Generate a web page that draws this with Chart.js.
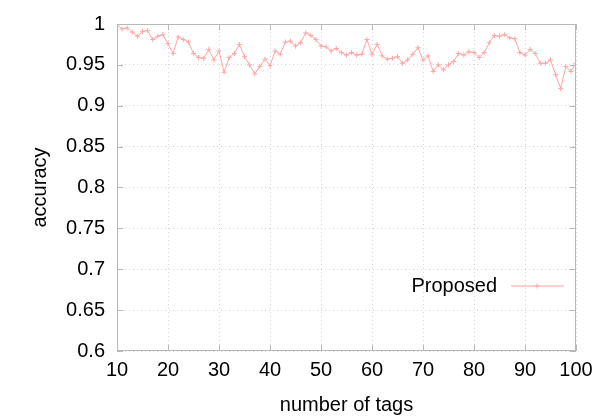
<!DOCTYPE html>
<html>
<head>
<meta charset="utf-8">
<script src="https://cdn.jsdelivr.net/npm/chart.js@4/dist/chart.umd.min.js"></script>
<style>
  html, body { margin: 0; padding: 0; background: #fff; }
  #wrap { width: 612px; height: 417px; }
</style>
</head>
<body>
<div id="wrap"><canvas id="accChart" width="612" height="417"></canvas></div>
<script>
// number of tags (x) and accuracy of the proposed method (y)
const numTags = [
  10, 11, 12, 13, 14, 15, 16, 17, 18, 19,
  20, 21, 22, 23, 24, 25, 26, 27, 28, 29,
  30, 31, 32, 33, 34, 35, 36, 37, 38, 39,
  40, 41, 42, 43, 44, 45, 46, 47, 48, 49,
  50, 51, 52, 53, 54, 55, 56, 57, 58, 59,
  60, 61, 62, 63, 64, 65, 66, 67, 68, 69,
  70, 71, 72, 73, 74, 75, 76, 77, 78, 79,
  80, 81, 82, 83, 84, 85, 86, 87, 88, 89,
  90, 91, 92, 93, 94, 95, 96, 97, 98, 99,
  100
];
const proposedAcc = [
  0.999, 0.994, 0.995, 0.990, 0.985, 0.991, 0.992, 0.981, 0.985, 0.987,
  0.976, 0.964, 0.984, 0.981, 0.978, 0.964, 0.959, 0.958, 0.969, 0.956,
  0.967, 0.941, 0.959, 0.964, 0.975, 0.960, 0.950, 0.939, 0.948, 0.957,
  0.949, 0.967, 0.963, 0.978, 0.979, 0.973, 0.977, 0.989, 0.986, 0.981,
  0.973, 0.972, 0.967, 0.970, 0.965, 0.962, 0.965, 0.962, 0.963, 0.981,
  0.963, 0.975, 0.961, 0.957, 0.958, 0.960, 0.952, 0.956, 0.963, 0.971,
  0.956, 0.961, 0.942, 0.950, 0.944, 0.950, 0.954, 0.964, 0.962, 0.966,
  0.965, 0.959, 0.965, 0.977, 0.986, 0.985, 0.987, 0.983, 0.982, 0.965,
  0.962, 0.969, 0.964, 0.952, 0.952, 0.956, 0.938, 0.921, 0.948, 0.942,
  0.952
];
const seriesName = "Proposed";
const xTitle = "number of tags";
const yTitle = "accuracy";

const lineColor = "#ffa6a6";
const gridColor = "#d6d6d6";
const frameColor = "#b8b8b8";
const fontFamily = "'Liberation Sans', Arial, sans-serif";

// gnuplot-style key drawn inside the plot area
const insideKey = {
  id: "insideKey",
  afterDatasetsDraw(chart) {
    const { ctx, chartArea } = chart;
    const y = chartArea.top + 262;
    const textRight = chartArea.right - 79;
    ctx.save();
    ctx.font = "20px " + fontFamily;
    ctx.fillStyle = "#000";
    ctx.textAlign = "right";
    ctx.textBaseline = "middle";
    ctx.fillText(seriesName, textRight, y);
    ctx.strokeStyle = lineColor;
    ctx.lineWidth = 1;
    ctx.beginPath();
    ctx.moveTo(textRight + 14, y);
    ctx.lineTo(textRight + 67, y);
    const mx = textRight + 40;
    ctx.moveTo(mx - 2.5, y);
    ctx.lineTo(mx + 2.5, y);
    ctx.moveTo(mx, y - 2.5);
    ctx.lineTo(mx, y + 2.5);
    ctx.stroke();
    ctx.restore();
  }
};

// solid frame with short inward tics, like gnuplot
const frame = {
  id: "frame",
  afterDraw(chart) {
    const { ctx, chartArea: a, scales } = chart;
    const tic = 6;
    ctx.save();
    ctx.strokeStyle = frameColor;
    ctx.lineWidth = 1;
    ctx.strokeRect(a.left + 0.5, a.top + 0.5, a.right - a.left - 1, a.bottom - a.top - 1);
    ctx.beginPath();
    scales.y.ticks.forEach((t) => {
      const py = Math.round(scales.y.getPixelForValue(t.value)) + 0.5;
      ctx.moveTo(a.left, py); ctx.lineTo(a.left + tic, py);
      ctx.moveTo(a.right, py); ctx.lineTo(a.right - tic, py);
    });
    scales.x.ticks.forEach((t) => {
      const px = Math.round(scales.x.getPixelForValue(t.value)) + 0.5;
      ctx.moveTo(px, a.bottom); ctx.lineTo(px, a.bottom - tic);
      ctx.moveTo(px, a.top); ctx.lineTo(px, a.top + tic);
    });
    ctx.stroke();
    ctx.restore();
  }
};

new Chart(document.getElementById("accChart"), {
  type: "line",
  data: {
    datasets: [{
      label: seriesName,
      data: numTags.map((t, i) => ({ x: t, y: proposedAcc[i] })),
      borderColor: lineColor,
      backgroundColor: lineColor,
      borderWidth: 1,
      pointStyle: "cross",
      pointRadius: 2.5,
      pointBorderWidth: 1,
      pointHoverRadius: 2.5,
      tension: 0,
      fill: false
    }]
  },
  options: {
    responsive: false,
    animation: false,
    devicePixelRatio: 1,
    layout: { padding: { left: 0, top: 15, right: 36, bottom: 0 } },
    plugins: {
      legend: { display: false },
      tooltip: { enabled: false }
    },
    scales: {
      x: {
        type: "linear",
        min: 10,
        max: 100,
        afterFit: (s) => { s.height = 66; },
        ticks: {
          stepSize: 10,
          color: "#000",
          padding: 7,
          maxRotation: 0,
          font: { family: fontFamily, size: 20 }
        },
        grid: {
          color: gridColor,
          drawTicks: false
        },
        border: { display: false, dash: [1, 3] },
        title: {
          display: true,
          text: xTitle,
          color: "#000",
          padding: { top: 0, bottom: 0 },
          font: { family: fontFamily, size: 20 }
        }
      },
      y: {
        min: 0.6,
        max: 1,
        afterFit: (s) => { s.width = 117; },
        ticks: {
          stepSize: 0.05,
          color: "#000",
          padding: 12,
          font: { family: fontFamily, size: 20 },
          callback: (v) => String(+v.toFixed(2))
        },
        grid: {
          color: gridColor,
          drawTicks: false
        },
        border: { display: false, dash: [1, 3] },
        title: {
          display: true,
          text: yTitle,
          color: "#000",
          padding: { top: 28, bottom: 0 },
          font: { family: fontFamily, size: 20 }
        }
      }
    }
  },
  plugins: [insideKey, frame]
});
</script>
</body>
</html>
